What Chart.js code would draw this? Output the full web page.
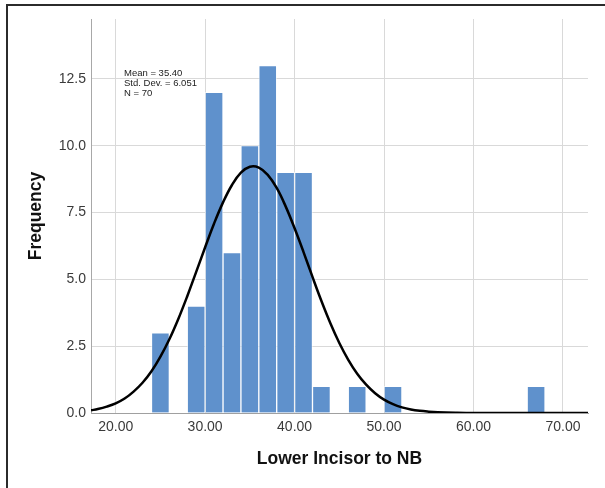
<!DOCTYPE html>
<html>
<head>
<meta charset="utf-8">
<script src="https://cdn.jsdelivr.net/npm/chart.js@4"></script>
<style>
  body { margin: 0; background: #fff; overflow: hidden; }
  #wrap { position: relative; width: 605px; height: 488px; }
  #frame { position: absolute; left: 6px; top: 4px; width: 700px; height: 600px;
           border-top: 2px solid #2b2b2b; border-left: 2px solid #2b2b2b; pointer-events: none; }
</style>
</head>
<body>
<div id="wrap">
  <canvas id="myChart"></canvas>
  <div id="frame"></div>
</div>
<script>
// Histograma: centros de clase (ancho 2) y frecuencias
const binCenters = [25, 29, 31, 33, 35, 37, 39, 41, 43, 47, 51, 67];
const frequencies = [3, 4, 12, 6, 10, 13, 9, 9, 1, 1, 1, 1];

// Curva normal
const curveX = [17.24, 18, 19, 20, 21, 22, 23, 24, 25, 26, 27, 28, 29, 30, 31, 32, 33, 34, 35, 36,
                37, 38, 39, 40, 41, 42, 43, 44, 45, 46, 47, 48, 49, 50, 51, 52, 53, 54, 55, 56, 58, 60, 72.8];
const curveY = [0.10, 0.15, 0.24, 0.36, 0.54, 0.80, 1.13, 1.56, 2.11, 2.76, 3.52, 4.37, 5.28, 6.20, 7.09, 7.88, 8.53, 8.99, 9.21, 9.18,
                8.91, 8.42, 7.73, 6.91, 6.02, 5.09, 4.19, 3.36, 2.62, 1.99, 1.47, 1.06, 0.74, 0.50, 0.33, 0.21, 0.13, 0.08, 0.05, 0.03, 0.01, 0.0, 0.0];

const xTickValues = [20, 30, 40, 50, 60, 70];
const yTickValues = [0, 2.5, 5, 7.5, 10, 12.5];
const statsLines = ['Mean = 35.40', 'Std. Dev. = 6.051', 'N = 70'];

const statsBox = {
    id: 'statsBox',
    afterDatasetsDraw(chart) {
        const ctx = chart.ctx;
        const x = chart.scales.x.getPixelForValue(20.93);
        const y = chart.scales.y.getPixelForValue(12.71);
        ctx.save();
        ctx.font = '9.5px "Liberation Sans", Arial, sans-serif';
        ctx.fillStyle = '#222';
        ctx.textBaseline = 'middle';
        statsLines.forEach((t, i) => ctx.fillText(t, x, y + i * 10));
        ctx.restore();
    }
};

function crearHistograma() {
    const ctx = document.getElementById('myChart').getContext('2d');
    new Chart(ctx, {
        type: 'bar',
        data: {
            datasets: [
                {
                    type: 'line',
                    data: curveX.map((x, i) => ({ x: x, y: curveY[i] })),
                    borderColor: '#000',
                    borderWidth: 2.5,
                    pointRadius: 0,
                    tension: 0.4,
                    fill: false,
                    order: 1
                },
                {
                    type: 'bar',
                    data: binCenters.map((x, i) => ({ x: x, y: frequencies[i] })),
                    backgroundColor: '#5f91cc',
                    borderColor: 'rgba(255,255,255,0.55)',
                    borderWidth: 1,
                    borderSkipped: 'bottom',
                    barPercentage: 1,
                    categoryPercentage: 1,
                    order: 2
                }
            ]
        },
        options: {
            responsive: true,
            maintainAspectRatio: false,
            animation: false,
            layout: { padding: { top: 19, right: 17, left: 0, bottom: 0 } },
            plugins: {
                legend: { display: false },
                tooltip: { enabled: false }
            },
            scales: {
                x: {
                    type: 'linear',
                    min: 17.24,
                    max: 72.8,
                    offset: false,
                    afterBuildTicks: s => { s.ticks = xTickValues.map(v => ({ value: v })); },
                    afterFit: s => { s.height = 75; },
                    grid: { color: '#d9d9d9', drawTicks: false, offset: false },
                    border: { color: '#a0a0a0' },
                    ticks: {
                        padding: 6,
                        color: '#3a3a3a',
                        font: { family: '"Liberation Sans", Arial, sans-serif', size: 14 },
                        callback: v => v.toFixed(2),
                        maxRotation: 0
                    },
                    title: {
                        display: true,
                        text: 'Lower Incisor to NB',
                        color: '#111',
                        font: { family: '"Liberation Sans", Arial, sans-serif', size: 17.5, weight: 'bold', lineHeight: 1.2 },
                        padding: { top: 0, bottom: 18 }
                    }
                },
                y: {
                    min: 0,
                    max: 14.74,
                    afterBuildTicks: s => { s.ticks = yTickValues.map(v => ({ value: v })); },
                    afterFit: s => { s.width = 91; },
                    grid: { color: '#d9d9d9', drawTicks: false },
                    border: { color: '#a8a8a8' },
                    ticks: {
                        padding: 5,
                        color: '#3a3a3a',
                        font: { family: '"Liberation Sans", Arial, sans-serif', size: 14 },
                        callback: v => v.toFixed(1)
                    },
                    title: {
                        display: true,
                        text: 'Frequency',
                        color: '#111',
                        font: { family: '"Liberation Sans", Arial, sans-serif', size: 17.5, weight: 'bold', lineHeight: 1.2 },
                        padding: { top: 25.5, bottom: 0 }
                    }
                }
            }
        },
        plugins: [statsBox]
    });
}

document.addEventListener('DOMContentLoaded', crearHistograma);
</script>
</body>
</html>
